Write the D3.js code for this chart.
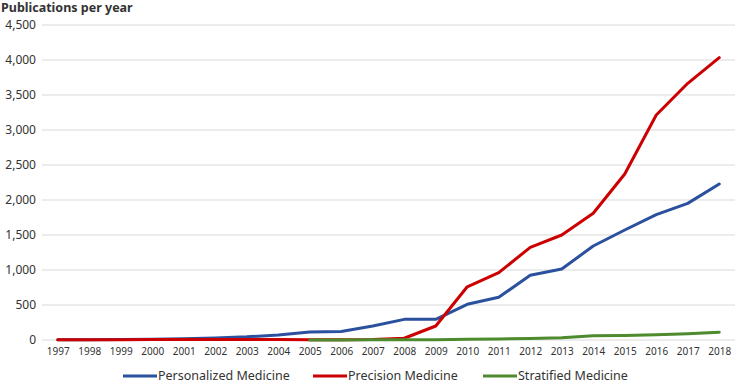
<!DOCTYPE html>
<html>
<head>
<meta charset="utf-8">
<script src="https://cdn.jsdelivr.net/npm/d3@7"></script>
<style>
  body { margin: 0; background: #fff; }
  text { font-family: "Noto Sans", sans-serif; }
</style>
</head>
<body>
<div id="chart"></div>
<script>
/* DATA */
const years = d3.range(1997, 2019).map(String);
const yTicks = [0, 500, 1000, 1500, 2000, 2500, 3000, 3500, 4000, 4500];

const personalized = [3, 4, 6, 12, 18, 30, 45, 70, 115, 120, 200, 295, 295, 510, 610, 924, 1014, 1343, 1571, 1790, 1952, 2229];
const precision = [5, 5, 5, 6, 6, 6, 6, 6, 5, 5, 8, 25, 200, 760, 962, 1324, 1500, 1810, 2371, 3214, 3667, 4033];
const stratified = [null, null, null, null, null, null, null, null, 0, 0, 2, 5, 5, 10, 15, 20, 33, 62, 65, 75, 88, 110];

const seriesNames = ["Personalized Medicine", "Precision Medicine", "Stratified Medicine"];
const seriesColors = ["#2b509e", "#cc0000", "#4e8a2e"];

/* LAYOUT */
const width = 736, height = 383;
const margin = { top: 25, right: 1, bottom: 43, left: 42 };

const svg = d3.select("#chart").append("svg")
  .attr("width", width)
  .attr("height", height);

const xScale = d3.scalePoint()
  .domain(years)
  .range([margin.left, width - margin.right])
  .padding(0.5);

const yScale = d3.scaleLinear()
  .domain([0, 4500])
  .range([height - margin.bottom, margin.top]);

// gridlines
svg.append("g")
  .selectAll("line")
  .data(yTicks)
  .join("line")
  .attr("x1", margin.left)
  .attr("x2", width - margin.right)
  .attr("y1", d => yScale(d))
  .attr("y2", d => yScale(d))
  .attr("stroke", "#d9d9d9")
  .attr("stroke-width", 1);

// y axis labels
const yAxis = d3.axisLeft(yScale)
  .tickValues(yTicks)
  .tickFormat(d3.format(","))
  .tickSize(0)
  .tickPadding(6);

svg.append("g")
  .attr("transform", `translate(${margin.left}, 0)`)
  .call(yAxis)
  .call(g => g.select(".domain").remove())
  .selectAll("text")
  .attr("font-size", 12)
  .attr("fill", "#333");

// x axis labels
const xAxis = d3.axisBottom(xScale).tickSize(0).tickPadding(8);

svg.append("g")
  .attr("transform", `translate(0, ${height - margin.bottom})`)
  .call(xAxis)
  .call(g => g.select(".domain").remove())
  .selectAll("text")
  .attr("font-size", 10)
  .attr("fill", "#333");

// title
svg.append("text")
  .attr("x", 1)
  .attr("y", 12)
  .attr("font-size", 12.5)
  .attr("font-weight", "bold")
  .attr("fill", "#333")
  .text("Publications per year");

// lines
const allSeries = [personalized, precision, stratified];
const line = d3.line()
  .defined(d => d.v !== null)
  .x(d => xScale(d.year))
  .y(d => yScale(d.v));

svg.append("g")
  .selectAll("path")
  .data(allSeries)
  .join("path")
  .attr("d", s => line(s.map((v, i) => ({ year: years[i], v: v }))))
  .attr("fill", "none")
  .attr("stroke", (s, i) => seriesColors[i])
  .attr("stroke-width", 3)
  .attr("stroke-linejoin", "round")
  .attr("stroke-linecap", "round");

// legend
const legendX = [123, 313, 483];
const legend = svg.append("g")
  .selectAll("g")
  .data(seriesNames)
  .join("g")
  .attr("transform", (d, i) => `translate(${legendX[i]}, 376)`);

legend.append("line")
  .attr("x1", 0)
  .attr("x2", 34)
  .attr("stroke", (d, i) => seriesColors[i])
  .attr("stroke-width", 3);

legend.append("text")
  .attr("x", 35)
  .attr("y", 4)
  .attr("font-size", 12.5)
  .attr("fill", "#333")
  .text(d => d);
</script>
</body>
</html>
